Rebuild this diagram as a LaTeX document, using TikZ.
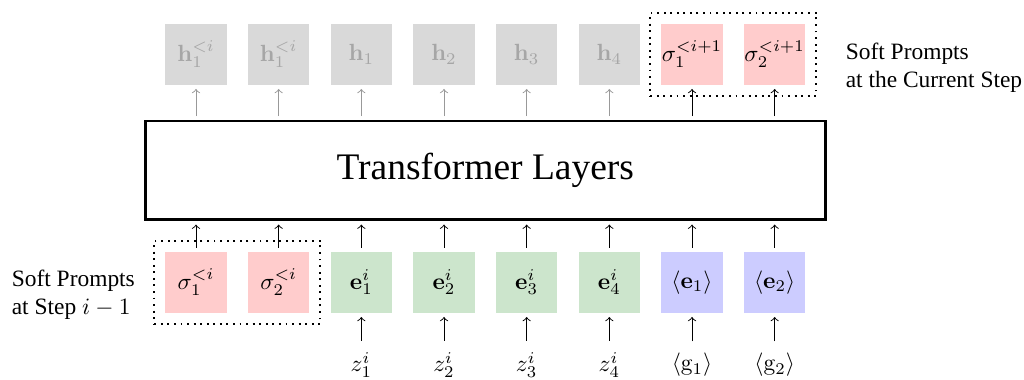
\documentclass[tikz,border=0pt]{standalone}
\usepackage[no-math]{fontspec}
\setmainfont{Liberation Serif}
\usetikzlibrary{positioning,fit}
\tikzset{
  hid/.style  = {rectangle, fill=gray!30, text=black!35, minimum size=9.2mm, inner sep=0},
  soft/.style = {rectangle, fill=red!20, minimum size=9.2mm, inner sep=0},
  emb/.style  = {rectangle, fill=green!50!black!20, minimum size=9.2mm, inner sep=0},
  spc/.style  = {rectangle, fill=blue!20, minimum size=9.2mm, inner sep=0},
  layer/.style= {rectangle, draw, very thick, minimum width=102mm, minimum height=14.8mm, font=\fontsize{16}{19}\selectfont},
  grp/.style  = {draw, thick, dotted, inner sep=4.5pt},
  arr/.style  = {->, shorten >=1.5pt, shorten <=1.5pt},
  garr/.style = {arr, black!40},
  note/.style = {align=left, inner sep=0}
}
\begin{document}
\begin{tikzpicture}
  \useasboundingbox (0,0) rectangle (15.36,5.685);

  \node[layer] (T) at (7.28,3.13) {Transformer Layers};

  \node[hid]  (ha) at ( 2.94,4.87) {$\mathbf{h}^{<i}_1$};
  \node[hid]  (hb) at ( 4.18,4.87) {$\mathbf{h}^{<i}_1$};
  \node[hid]  (h1) at ( 5.42,4.87) {$\mathbf{h}_1$};
  \node[hid]  (h2) at ( 6.66,4.87) {$\mathbf{h}_2$};
  \node[hid]  (h3) at ( 7.90,4.87) {$\mathbf{h}_3$};
  \node[hid]  (h4) at ( 9.14,4.87) {$\mathbf{h}_4$};
  \node[soft] (n1) at (10.38,4.87) {$\sigma^{<i+1}_1$};
  \node[soft] (n2) at (11.62,4.87) {$\sigma^{<i+1}_2$};

  \node[soft] (o1) at ( 2.94,1.45) {$\sigma^{<i}_1$};
  \node[soft] (o2) at ( 4.18,1.45) {$\sigma^{<i}_2$};
  \node[emb]  (e1) at ( 5.42,1.45) {$\mathbf{e}^i_1$};
  \node[emb]  (e2) at ( 6.66,1.45) {$\mathbf{e}^i_2$};
  \node[emb]  (e3) at ( 7.90,1.45) {$\mathbf{e}^i_3$};
  \node[emb]  (e4) at ( 9.14,1.45) {$\mathbf{e}^i_4$};
  \node[spc]  (s1) at (10.38,1.45) {$\langle\mathbf{e}_1\rangle$};
  \node[spc]  (s2) at (11.62,1.45) {$\langle\mathbf{e}_2\rangle$};

  \node (z1) at ( 5.42,0.21) {$z^i_1$};
  \node (z2) at ( 6.66,0.21) {$z^i_2$};
  \node (z3) at ( 7.90,0.21) {$z^i_3$};
  \node (z4) at ( 9.14,0.21) {$z^i_4$};
  \node (g1) at (10.38,0.21) {$\langle\mathrm{g}_1\rangle$};
  \node (g2) at (11.62,0.21) {$\langle\mathrm{g}_2\rangle$};

  \node[grp, fit=(o1)(o2)] (old) {};
  \node[grp, fit=(n1)(n2)] (new) {};

  \node[note, anchor=east] (lo) at (2.03,1.26) {Soft Prompts\\at Step $i-1$};
  \node[note, anchor=west] (ln) at (12.68,4.665) {Soft Prompts\\at the Current Step};

  \draw[garr] (T.north -| ha) -- (ha);
  \draw[garr] (T.north -| hb) -- (hb);
  \draw[garr] (T.north -| h1) -- (h1);
  \draw[garr] (T.north -| h2) -- (h2);
  \draw[garr] (T.north -| h3) -- (h3);
  \draw[garr] (T.north -| h4) -- (h4);
  \draw[arr] (T.north -| n1) -- (n1);
  \draw[arr] (T.north -| n2) -- (n2);

  \draw[arr] (o1) -- (T.south -| o1);
  \draw[arr] (o2) -- (T.south -| o2);
  \draw[arr] (e1) -- (T.south -| e1);
  \draw[arr] (e2) -- (T.south -| e2);
  \draw[arr] (e3) -- (T.south -| e3);
  \draw[arr] (e4) -- (T.south -| e4);
  \draw[arr] (s1) -- (T.south -| s1);
  \draw[arr] (s2) -- (T.south -| s2);

  \draw[arr] (z1) -- (e1);
  \draw[arr] (z2) -- (e2);
  \draw[arr] (z3) -- (e3);
  \draw[arr] (z4) -- (e4);
  \draw[arr] (g1) -- (s1);
  \draw[arr] (g2) -- (s2);
\end{tikzpicture}
\end{document}
